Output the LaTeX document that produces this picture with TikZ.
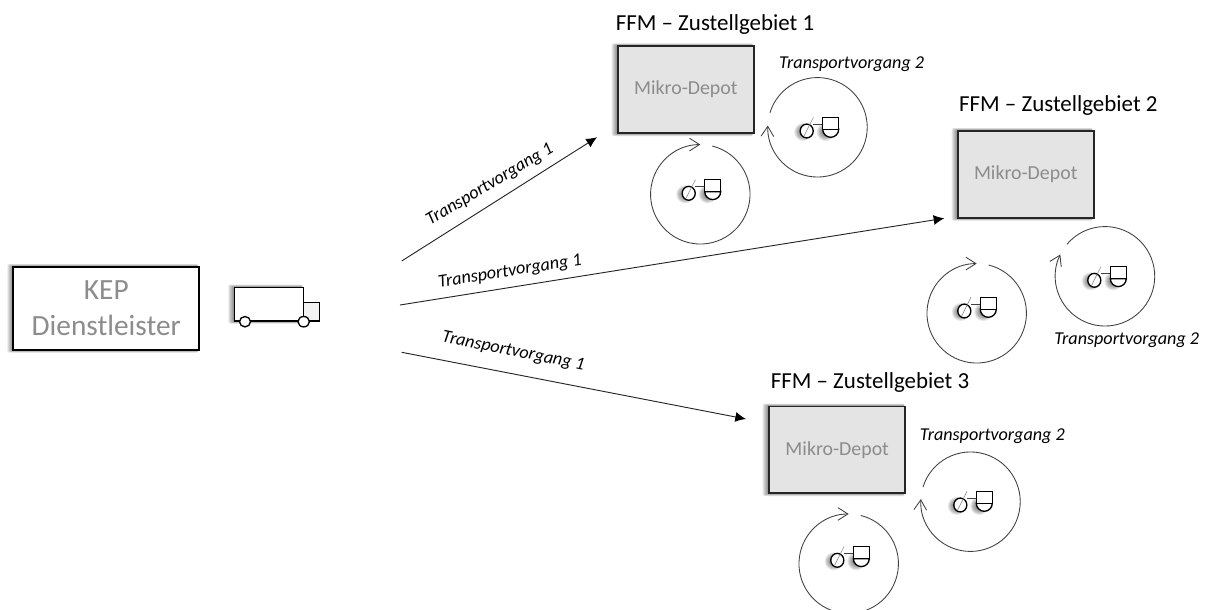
\documentclass[tikz,border=0pt]{standalone}
\usepackage{fontspec}
\setmainfont{Carlito}
\usetikzlibrary{arrows.meta}
\definecolor{txtgray}{HTML}{8C8C8C}
\definecolor{depotfill}{HTML}{E4E4E4}
\definecolor{ringcol}{HTML}{404040}
\tikzset{
  hubbox/.style={draw=black,line width=1.4pt,fill=white,minimum width=139.5pt,minimum height=62.5pt,inner sep=0pt,text=txtgray,align=center,font=\fontsize{22pt}{27pt}\selectfont},
  depotbox/.style={draw=black!85,line width=1.4pt,fill=depotfill,minimum width=102pt,minimum height=65pt,inner sep=0pt,text=txtgray,font=\fontsize{14.9pt}{18pt}\selectfont},
  titletext/.style={inner sep=0pt,text=black,font=\fontsize{17.2pt}{20pt}\selectfont},
  movelabel/.style={inner sep=0pt,text=black,font=\fontsize{13.6pt}{16pt}\itshape\selectfont},
  mainarrow/.style={draw=black!85,line width=.7pt,-{Latex[length=8pt,width=7.5pt,black]}},
  ringline/.style={draw=ringcol,line width=.65pt,-{Straight Barb[length=7.5pt,width=9.5pt,ringcol,line width=.65pt]}},
  iconline/.style={draw=black,line width=1pt},
  thinline/.style={draw=black!75,line width=.5pt},
  faintline/.style={draw=black!50,line width=.4pt},
}
\newcommand{\softbox}[4]{%
  \foreach \i in {1,...,6}{\fill[black,opacity=.09,rounded corners=1pt] (#1-\i,#2-.45*\i) rectangle (#3-1,#4+.45*\i);}}
\newcommand{\softdot}[2]{%
  \foreach \i in {3,...,9}{\fill[black,opacity=.09] (#1,#2) circle[radius=.75pt*\i];}}
\newcommand{\bike}[3]{%
  \begin{scope}[shift={(#2,#3)}]
    \softdot{-3.5}{1}
    \softdot{19}{1}
    \draw[iconline,fill=white] (0,0) ellipse[x radius=4.9pt,y radius=5.2pt];
    \coordinate (#1bar) at (6.7,-7);
    \coordinate (#1seat) at (16,-7);
    \draw[thinline] (#1bar) -- (#1seat);
    \draw[faintline] (6.7,-13.7) -- (-2.7,5);
    \draw[iconline,fill=white] (16,-1.7) arc[start angle=180,end angle=360,radius=6pt] -- cycle;
    \draw[iconline,fill=white] (16,-13.7) rectangle (32,-1.7);
  \end{scope}}
\newcommand{\ringarc}[5]{%
  \coordinate (#1) at (#2,#3);
  \draw[ringline] (#1) ++(canvas polar cs:angle=#4,radius=37.3pt) arc[start angle=#4,end angle=#5,radius=37.3pt];}
\begin{document}
\begin{tikzpicture}[x=.75pt,y=-.75pt]
\useasboundingbox (0,0) rectangle (1207,610);
% hub
\softbox{13.3}{266.7}{199.3}{350}
\node[hubbox] (hub) at (106.3,308.3) {KEP\\Dienstleister};
% truck
\softbox{234.3}{287.3}{303.7}{321}
\node[draw=black,line width=1pt,fill=white,minimum width=52pt,minimum height=25.3pt,inner sep=0pt] (body) at (269,304.2) {};
\node[draw=black,line width=1pt,fill=black!5,minimum width=12pt,minimum height=14pt,inner sep=0pt] (cab) at (311.7,311.7) {};
\draw[line width=1pt,fill=white] (245,321.7) ellipse[x radius=4.1pt,y radius=3.9pt];
\draw[line width=1pt,fill=white] (303.7,321.7) ellipse[x radius=4.3pt,y radius=3.9pt];
% depots
\softbox{617.7}{46}{754}{133.3}
\softbox{957.7}{130.7}{1093.7}{218}
\softbox{768.7}{406.3}{905.7}{493.3}
\node[depotbox] (d1) at (685.8,89.7) {\raisebox{-1pt}{Mikro-Depot}};
\node[depotbox] (d2) at (1025.7,174.3) {\raisebox{-1pt}{Mikro-Depot}};
\node[depotbox] (d3) at (837.2,449.8) {\raisebox{-1pt}{Mikro-Depot}};
% titles
\node[titletext] (t1) at (715,24.5) {FFM – Zustellgebiet 1};
\node[titletext] (t2) at (1058.3,105.5) {FFM – Zustellgebiet 2};
\node[titletext] (t3) at (870,383) {FFM – Zustellgebiet 3};
% main arrows
\coordinate (s1) at (401.7,261);
\coordinate (e1) at (597,137.3);
\coordinate (s2) at (400,305);
\coordinate (e2) at (944.3,218.3);
\coordinate (s3) at (401.7,352.3);
\coordinate (e3) at (746,419);
\draw[mainarrow] (s1) -- (e1);
\draw[mainarrow] (s2) -- (e2);
\draw[mainarrow] (s3) -- (e3);
\node[movelabel,rotate=31] (l1) at (490,185) {Transportvorgang 1};
\node[movelabel,rotate=9] (l2) at (510,271.7) {Transportvorgang 1};
\node[movelabel,rotate=-11.4] (l3) at (513.3,351.7) {Transportvorgang 1};
% rings
\ringarc{r1a}{817.5}{127.3}{163}{-182}
\ringarc{r1b}{700.3}{194.3}{76}{-270}
\ringarc{r2a}{1105}{276.3}{140}{-206}
\ringarc{r2b}{976.7}{313.3}{76}{-270}
\ringarc{r3a}{970.5}{501.7}{163}{-183}
\ringarc{r3b}{848.7}{563.7}{76}{-270}
% bikes
\bike{b1a}{806.7}{131}
\bike{b1b}{688.7}{193.3}
\bike{b2a}{1094.3}{280.3}
\bike{b2b}{964.3}{311}
\bike{b3a}{960.3}{505}
\bike{b3b}{837.3}{560.3}
% local labels
\node[movelabel] (m1) at (851.7,64) {Transportvorgang 2};
\node[movelabel] (m2) at (1126.7,340) {Transportvorgang 2};
\node[movelabel] (m3) at (992.3,435.7) {Transportvorgang 2};
\end{tikzpicture}
\end{document}
